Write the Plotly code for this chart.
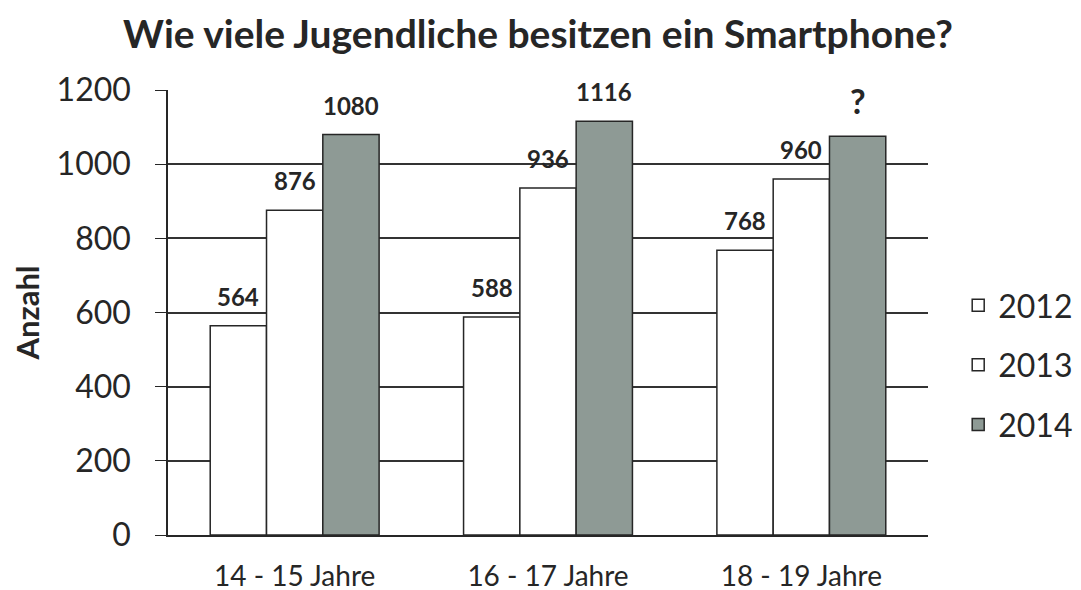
import plotly.graph_objects as go

categories = ["14 - 15 Jahre", "16 - 17 Jahre", "18 - 19 Jahre"]
series_names = ["2012", "2013", "2014"]
values_2012 = [564, 588, 768]
values_2013 = [876, 936, 960]
values_2014 = [1080, 1116, 1075]
labels_2012 = ["564", "588", "768"]
labels_2013 = ["876", "936", "960"]
labels_2014 = ["1080", "1116", "?"]
y_ticks = [0, 200, 400, 600, 800, 1000, 1200]

series_values = [values_2012, values_2013, values_2014]
series_labels = [labels_2012, labels_2013, labels_2014]
colors = ["#ffffff", "#ffffff", "#8e9a95"]

FONT = "Lato, 'Open Sans', sans-serif"
DARK = "#262626"

fig = go.Figure()
for name, vals, col in zip(series_names, series_values, colors):
    fig.add_trace(go.Bar(
        x=categories, y=vals, name=name, legendgroup=name,
        marker=dict(color=col, line=dict(color=DARK, width=1.5)),
    ))

bargap = 1 / 3
bw = (1 - bargap) / 3
annotations = []
for si, (vals, labs) in enumerate(zip(series_values, series_labels)):
    for gi, (v, lab) in enumerate(zip(vals, labs)):
        is_q = lab == "?"
        annotations.append(dict(
            x=gi + (si - 1) * bw, y=v, xref="x", yref="y",
            text=f"<b>{lab}</b>", showarrow=False,
            yanchor="bottom", yshift=13,
            font=dict(family=FONT, size=24 if not is_q else 34, color=DARK),
        ))

fig.update_layout(
    width=1081, height=590,
    paper_bgcolor="white", plot_bgcolor="white",
    margin=dict(l=160, r=161, t=82, b=63, autoexpand=False),
    barmode="group", bargap=bargap, bargroupgap=0,
    title=dict(text="<b>Wie viele Jugendliche besitzen ein Smartphone?</b>",
               x=530 / 1081, xref="container", xanchor="center", y=0.955, yanchor="middle",
               font=dict(family=FONT, size=39, color=DARK)),
    font=dict(family=FONT, color=DARK),
    legend=dict(x=0.879, xref="container", xanchor="left", y=0.395, yref="container",
                yanchor="middle", font=dict(family=FONT, size=32, color=DARK),
                tracegroupgap=15, bgcolor="rgba(0,0,0,0)"),
    annotations=annotations,
)
fig.update_xaxes(
    showline=True, linecolor=DARK, linewidth=2, ticks="",
    tickfont=dict(family=FONT, size=28, color=DARK), ticklabelstandoff=15,
    showgrid=False,
)
fig.update_yaxes(
    range=[0, 1200], tickvals=y_ticks, showgrid=True, gridcolor="#333333", gridwidth=1.8,
    showline=True, linecolor=DARK, linewidth=1.5, ticks="outside", ticklen=11,
    tickcolor=DARK, tickfont=dict(family=FONT, size=32, color=DARK), ticklabelstandoff=18,
    zeroline=False,
    title=dict(text="<b>Anzahl</b>", font=dict(family=FONT, size=31, color=DARK), standoff=14),
)
fig.write_html("out.html")
